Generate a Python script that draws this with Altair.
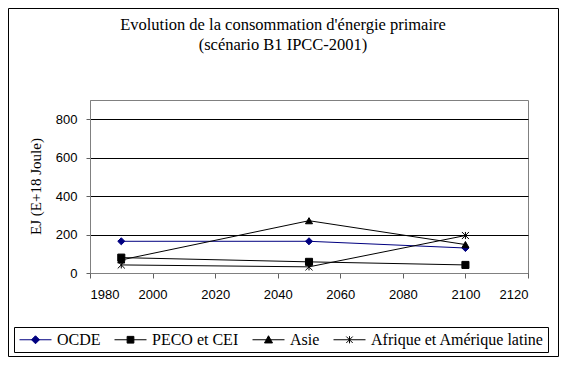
import altair as alt
import pandas as pd

years = [1990, 2050, 2100]
series = ["OCDE", "PECO et CEI", "Asie", "Afrique et Amérique latine"]
ocde = [165, 165, 130]
peco = [80, 58, 42]
asie = [68, 272, 148]
afrique = [42, 32, 195]
x_ticks = [1980, 2000, 2020, 2040, 2060, 2080, 2100, 2120]
y_ticks = [0, 200, 400, 600, 800]
title_lines = ["Evolution de la consommation d'énergie primaire", "(scénario B1 IPCC-2001)"]
y_title = "EJ (E+18 Joule)"

colors = ["#000080", "#000000", "#000000", "#000000"]
plot_shapes = ["diamond", "square", "triangle-up", "M-1,-1L1,1M-1,1L1,-1M0,-1L0,1"]
legend_shapes = [
    "M-2,0L2,0M0,-0.5L0.5,0L0,0.5L-0.5,0Z",
    "M-2,0L2,0M-0.42,-0.42L0.42,-0.42L0.42,0.42L-0.42,0.42Z",
    "M-2,0L2,0M0,-0.5L0.5,0.4L-0.5,0.4Z",
    "M-2,0L2,0M-0.4,-0.4L0.4,0.4M-0.4,0.4L0.4,-0.4M0,-0.45L0,0.45",
]

rows = []
for s, vals in zip(series, [ocde, peco, asie, afrique]):
    for yr, v in zip(years, vals):
        rows.append({"annee": yr, "valeur": v, "serie": s})
df = pd.DataFrame(rows)

x = alt.X("annee:Q", scale=alt.Scale(domain=[1980, 2120], nice=False, zero=False),
          axis=alt.Axis(values=x_ticks, format="d", title=None, grid=False,
                        tickSize=5, labelPadding=10))
y = alt.Y("valeur:Q", scale=alt.Scale(domain=[0, 900], nice=False),
          axis=alt.Axis(values=y_ticks, title=y_title, grid=True, tickSize=4,
                        labelPadding=9, titleX=-55, titleY=86, titleAngle=-90,
                        titleAlign="center", titleBaseline="middle",
                        titleFont="Liberation Serif", titleFontSize=15,
                        titleFontWeight="normal", titleColor="#000000"))
color_scale = alt.Scale(domain=series, range=colors)
leg_legend = alt.Legend(symbolOpacity=1, labelFont="Liberation Serif", labelFontSize=16,
                        labelLimit=400, labelColor="#000000")

leg = alt.Chart(df).mark_point(filled=True, opacity=0, strokeWidth=1).encode(
    x=x, y=y,
    color=alt.Color("serie:N", scale=color_scale, title=None, legend=leg_legend),
    stroke=alt.Stroke("serie:N", scale=color_scale, title=None, legend=leg_legend),
    shape=alt.Shape("serie:N", scale=alt.Scale(domain=series, range=legend_shapes),
                    title=None, legend=leg_legend),
)

frame = alt.Chart(pd.DataFrame({"a": [0]})).mark_rect(
    fill="transparent", stroke="black", strokeWidth=1
).encode(x=alt.value(-81.5), x2=alt.value(468.5), y=alt.value(-91.5), y2=alt.value(256.5))

lines = alt.Chart(df).mark_line(strokeWidth=1).encode(
    x=x, y=y, color=alt.Color("serie:N", scale=color_scale, title=None), detail="serie:N"
)

pt_layers = []
for s, shp in zip(series, plot_shapes):
    pt_layers.append(
        alt.Chart(df).transform_filter(alt.datum.serie == s).mark_point(
            filled=True, size=50, strokeWidth=1, shape=shp, opacity=1
        ).encode(
            x=x, y=y,
            color=alt.Color("serie:N", scale=color_scale, title=None),
            stroke=alt.Stroke("serie:N", scale=color_scale, title=None),
        )
    )

chart = alt.layer(leg, frame, lines, *pt_layers).properties(
    width=438, height=173,
    autosize=alt.AutoSizeParams(type="none"),
    padding={"left": 82, "top": 92, "right": 31, "bottom": 84},
    background="white",
    title=alt.TitleParams(text=title_lines, font="Liberation Serif", fontSize=16.5,
                          fontWeight="normal", anchor="middle", dx=-26, offset=-45,
                          lineHeight=20, color="#000000"),
).configure_view(stroke="#808080", strokeWidth=1).configure_axis(
    labelFont="Liberation Sans", labelFontSize=13, labelColor="black",
    domainColor="#808080", tickColor="#606060", gridColor="#000000", gridWidth=1,
).configure_legend(
    orient="none", legendX=-76, legendY=227, direction="horizontal",
    strokeColor="black", padding=4, labelFont="Liberation Serif", labelFontSize=16,
    labelColor="black", symbolSize=256, symbolOffset=9, labelOffset=13,
    columnPadding=11, symbolStrokeWidth=1, labelLimit=400,
)

chart.save("out.html", embed_options={"renderer": "svg", "actions": False})
